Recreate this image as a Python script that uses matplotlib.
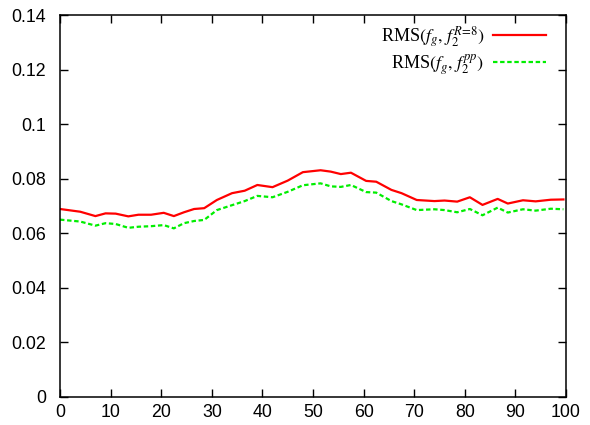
import matplotlib
matplotlib.use("Agg")
import matplotlib.pyplot as plt

# values
x = [0, 4, 7, 9, 11, 13.5, 15.5, 18, 20.5, 22.5, 24.5, 26.5, 28.5, 31, 34, 36.5,
     39, 42, 45, 48, 51.5, 53.5, 55.5, 57.5, 60.5, 62.5, 65.5, 67.5, 70.5, 74,
     76, 78.5, 81, 83.5, 86.5, 88.5, 91.5, 94, 97, 99.5]
rms_r8 = [0.0689, 0.0679, 0.0663, 0.0673, 0.0672, 0.0662, 0.0668, 0.0668, 0.0675,
          0.0663, 0.0677, 0.0689, 0.0692, 0.0722, 0.0747, 0.0756, 0.0777, 0.0769,
          0.0793, 0.0824, 0.0831, 0.0826, 0.0817, 0.0822, 0.0792, 0.0789, 0.0759,
          0.0747, 0.0722, 0.0718, 0.0720, 0.0716, 0.0732, 0.0704, 0.0726, 0.0709,
          0.0721, 0.0717, 0.0723, 0.0724]
rms_pp = [0.0650, 0.0643, 0.0628, 0.0637, 0.0634, 0.0620, 0.0624, 0.0626, 0.0630,
          0.0618, 0.0637, 0.0645, 0.0649, 0.0685, 0.0703, 0.0718, 0.0737, 0.0732,
          0.0752, 0.0776, 0.0783, 0.0772, 0.0770, 0.0777, 0.0751, 0.0749, 0.0718,
          0.0706, 0.0685, 0.0688, 0.0685, 0.0677, 0.0689, 0.0666, 0.0694, 0.0676,
          0.0688, 0.0683, 0.0690, 0.0688]
xticks = list(range(0, 101, 10))
yticks = [0, 0.02, 0.04, 0.06, 0.08, 0.1, 0.12, 0.14]
ylabels = ["0", "0.02", "0.04", "0.06", "0.08", "0.1", "0.12", "0.14"]

plt.rcParams["font.family"] = ["Liberation Sans", "DejaVu Sans"]
plt.rcParams["mathtext.fontset"] = "stix"

fig = plt.figure(figsize=(5.9, 4.25), dpi=100)
ax = fig.add_axes([0.1017, 0.0659, 0.8576, 0.8988])

ax.plot(x, rms_r8, color="#ff0000", lw=1.6, label=r"RMS$(f_g,\, f_2^{R\!=\!8})$")
ax.plot(x, rms_pp, color="#00ee00", lw=1.6, ls=(0, (2, 1.2)),
        label=r"RMS$(f_g,\, f_2^{pp})$")

ax.set_xlim(0, 100)
ax.set_ylim(0, 0.14)
ax.set_xticks(xticks)
ax.set_yticks(yticks)
ax.set_yticklabels(ylabels)
ax.tick_params(direction="in", length=6, width=1, top=True, right=True,
               labelsize=12.8)
ax.tick_params(axis="y", pad=10)
ax.tick_params(axis="x", pad=5)
for s in ax.spines.values():
    s.set_linewidth(1.1)

leg = ax.legend(loc="upper right", bbox_to_anchor=(0.96, 0.976), frameon=False,
                markerfirst=False, handlelength=2.9, handletextpad=0.5,
                labelspacing=0.12, borderpad=0, borderaxespad=0,
                prop={"family": "Liberation Serif", "size": 13})

fig.savefig("out.png", dpi=100)
